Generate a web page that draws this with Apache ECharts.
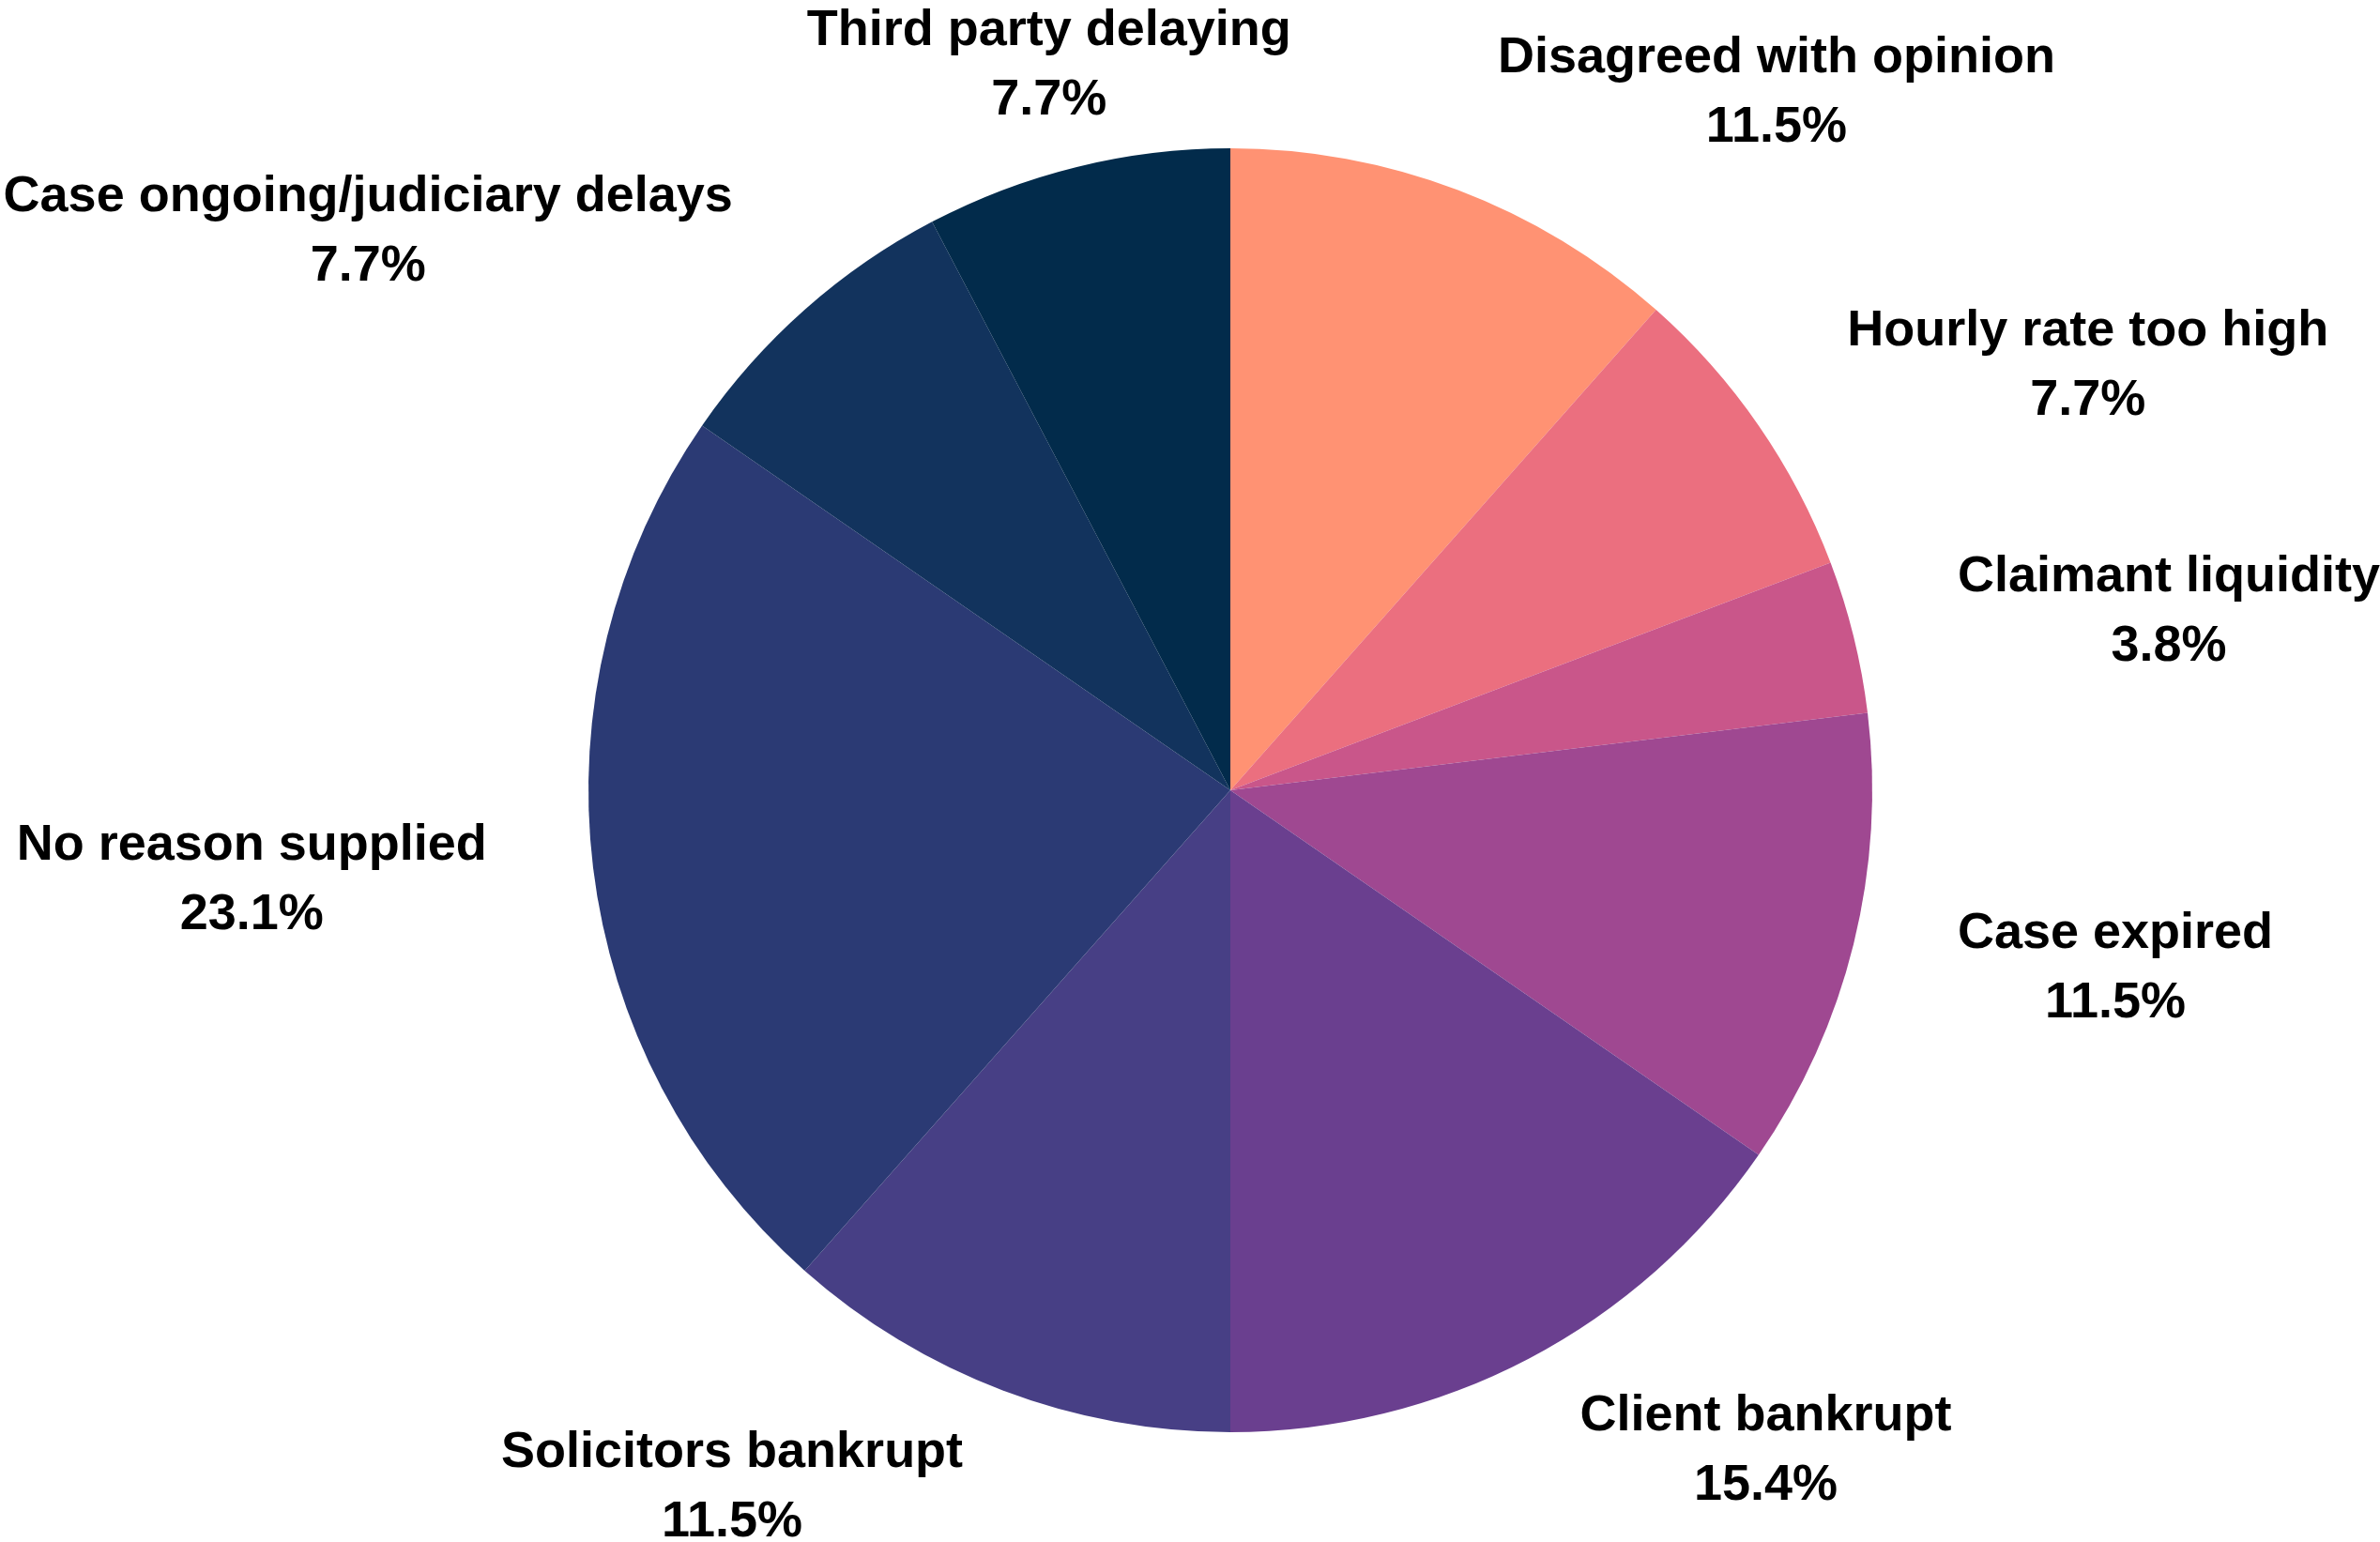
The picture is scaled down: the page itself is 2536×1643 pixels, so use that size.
<!DOCTYPE html>
<html>
<head>
<meta charset="utf-8">
<script src="https://cdn.jsdelivr.net/npm/echarts@6/dist/echarts.min.js"></script>
<style>
html,body{margin:0;padding:0;background:#ffffff;}
#chart{width:2536px;height:1643px;}
</style>
</head>
<body>
<div id="chart"></div>
<script>
const categories = [
  'Disagreed with opinion',
  'Hourly rate too high',
  'Claimant liquidity',
  'Case expired',
  'Client bankrupt',
  'Solicitors bankrupt',
  'No reason supplied',
  'Case ongoing/judiciary delays',
  'Third party delaying'
];
const counts = [3, 2, 1, 3, 4, 3, 6, 2, 2];
const colors = ['#FF9273', '#EB6F7F', '#C9568A', '#9F4891', '#6A3F8F', '#473F85', '#2B3A74', '#12335D', '#022B4B'];
// labels centred over their anchor instead of side-aligned
const centredLabels = ['Third party delaying'];

const total = counts.reduce((a, b) => a + b, 0);
const chart = echarts.init(document.getElementById('chart'), null, {renderer: 'canvas'});
chart.setOption({
  backgroundColor: '#ffffff',
  animation: false,
  color: colors,
  series: [{
    type: 'pie',
    center: [1311, 842],
    radius: 684,
    startAngle: 90,
    clockwise: true,
    avoidLabelOverlap: false,
    itemStyle: {borderWidth: 0},
    label: {
      show: true,
      position: 'outside',
      distanceToLabelLine: 3,
      color: '#000',
      fontFamily: 'Liberation Sans',
      fontWeight: 'bold',
      fontSize: 54,
      formatter: p => '{n|' + p.name + '}\n{v|' + (p.value / total * 100).toFixed(1) + '%}',
      rich: {
        n: {fontFamily: 'Liberation Sans', fontWeight: 'bold', fontSize: 54, lineHeight: 74, color: '#000', align: 'center'},
        v: {fontFamily: 'Liberation Sans', fontWeight: 'bold', fontSize: 54, lineHeight: 74, color: '#000', align: 'center'}
      }
    },
    labelLine: {show: false, length: 111, length2: 0},
    labelLayout: function (params) {
      if (centredLabels.indexOf(categories[params.dataIndex]) >= 0) {
        return {dx: params.labelRect.width / 2, dy: 0};
      }
      return {};
    },
    data: categories.map((c, i) => ({name: c, value: counts[i]}))
  }]
});
</script>
</body>
</html>
